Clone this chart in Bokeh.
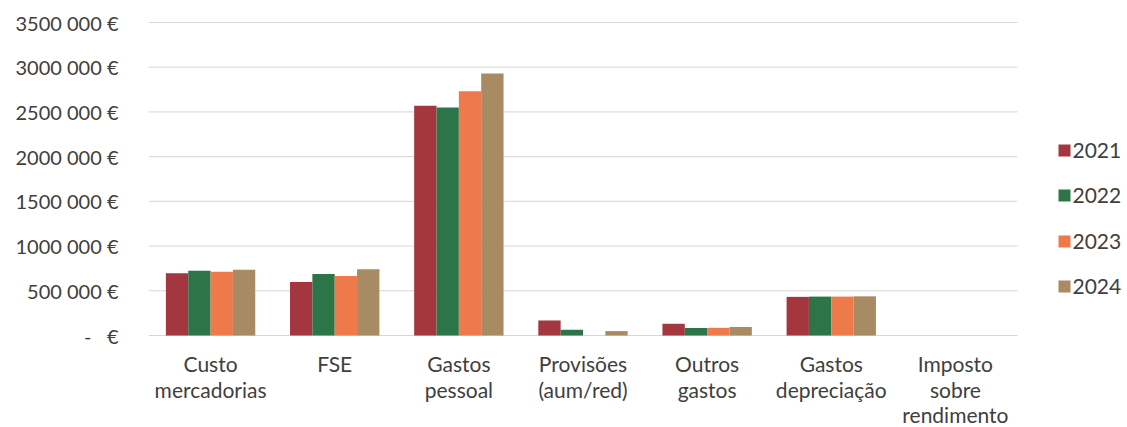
from bokeh.plotting import figure
from bokeh.models import FixedTicker, ColumnDataSource
from bokeh.core.properties import value
from bokeh.embed import file_html
from bokeh.resources import INLINE

# Expense categories, each split into the lines shown under the axis
categories = ["Custo mercadorias", "FSE", "Gastos pessoal", "Provisões (aum/red)",
              "Outros gastos", "Gastos depreciação", "Imposto sobre rendimento"]
category_lines = [["Custo", "mercadorias"], ["FSE"], ["Gastos", "pessoal"],
                  ["Provisões", "(aum/red)"], ["Outros", "gastos"],
                  ["Gastos", "depreciação"], ["Imposto", "sobre", "rendimento"]]

years = ["2021", "2022", "2023", "2024"]

# Values in euros per category, one list per year
v2021 = [695000, 598000, 2570000, 168000, 131000, 432000, 0]
v2022 = [725000, 688000, 2550000, 64000, 84000, 435000, 0]
v2023 = [712000, 665000, 2730000, 0, 86000, 435000, 0]
v2024 = [735000, 740000, 2930000, 49000, 95000, 438000, 0]
series = [v2021, v2022, v2023, v2024]

colors = ["#A3363F", "#2E7449", "#EE7A4C", "#A88B63"]

y_ticks = [0, 500000, 1000000, 1500000, 2000000, 2500000, 3000000, 3500000]
y_tick_labels = ["-\u00a0\u00a0\u00a0€", "500 000 €", "1000 000 €", "1500 000 €",
                 "2000 000 €", "2500 000 €", "3000 000 €", "3500 000 €"]

FONT = "Lato"
TEXT_COLOR = "#404040"

# Canvas geometry (pixels)
W, H = 1127, 427
LEFT = 148                 # left edge of the plotting area
CAT_PX = 124.14            # width of one category slot
Y0_PX, YTOP_PX = 335, 22   # screen rows of 0 € and of the top tick
PX_PER_EUR = (Y0_PX - YTOP_PX) / y_ticks[-1]

x_end = (W - LEFT) / CAT_PX
y_start = -(H - Y0_PX) / PX_PER_EUR
y_end = y_ticks[-1] + YTOP_PX / PX_PER_EUR


def ydata(px):
    """Screen row (from the top) -> data y."""
    return (Y0_PX - px) / PX_PER_EUR


def xdata(px):
    """Screen column -> data x."""
    return (px - LEFT) / CAT_PX


p = figure(width=W, height=H, x_range=(0, x_end), y_range=(y_start, y_end),
           output_backend="svg", toolbar_location=None, x_axis_location=None,
           min_border_left=LEFT, min_border_right=0, min_border_top=0, min_border_bottom=0)
p.outline_line_color = None
p.xgrid.grid_line_color = None
p.ygrid.grid_line_color = None

n = len(categories)

# Horizontal gridlines across the category area
p.segment(x0=[0] * len(y_ticks), x1=[n] * len(y_ticks), y0=y_ticks, y1=y_ticks,
          line_color="#D6D6D6", line_width=1)

# Grouped bars
bar_w = 0.18
offsets = [-1.5 * bar_w, -0.5 * bar_w, 0.5 * bar_w, 1.5 * bar_w]
for vals, col, off in zip(series, colors, offsets):
    src = ColumnDataSource(dict(x=[i + 0.5 + off for i in range(n)], top=vals))
    p.vbar(x="x", top="top", width=bar_w, bottom=0, source=src,
           fill_color=col, line_color=None)

# Category labels below the baseline
lx, ly, lt = [], [], []
first_mid, line_step = 363, 25.5
for i, lines in enumerate(category_lines):
    for k, line in enumerate(lines):
        lx.append(i + 0.5)
        ly.append(ydata(first_mid + k * line_step))
        lt.append(line)
p.text(x=lx, y=ly, text=lt, text_align="center", text_baseline="middle",
       text_font=value(FONT), text_font_size="21px", text_color=TEXT_COLOR)

# Legend on the right
leg_rows = [150, 195, 241, 286]
p.scatter(x=[xdata(1064)] * 4, y=[ydata(r) for r in leg_rows], marker="square",
          size=12, fill_color=colors, line_color=None)
p.text(x=[xdata(1072)] * 4, y=[ydata(r) for r in leg_rows], text=years,
       text_align="left", text_baseline="middle",
       text_font=value(FONT), text_font_size="21px", text_color=TEXT_COLOR)

# Y axis with euro tick labels
p.yaxis.ticker = FixedTicker(ticks=y_ticks)
p.yaxis.major_label_overrides = {t: l for t, l in zip(y_ticks, y_tick_labels)}
p.yaxis.axis_line_color = None
p.yaxis.major_tick_line_color = None
p.yaxis.minor_tick_line_color = None
p.yaxis.major_tick_out = 0
p.yaxis.major_label_standoff = 30
p.yaxis.major_label_text_font = FONT
p.yaxis.major_label_text_font_size = "20px"
p.yaxis.major_label_text_color = TEXT_COLOR

open("out.html", "w").write(file_html(p, INLINE))
